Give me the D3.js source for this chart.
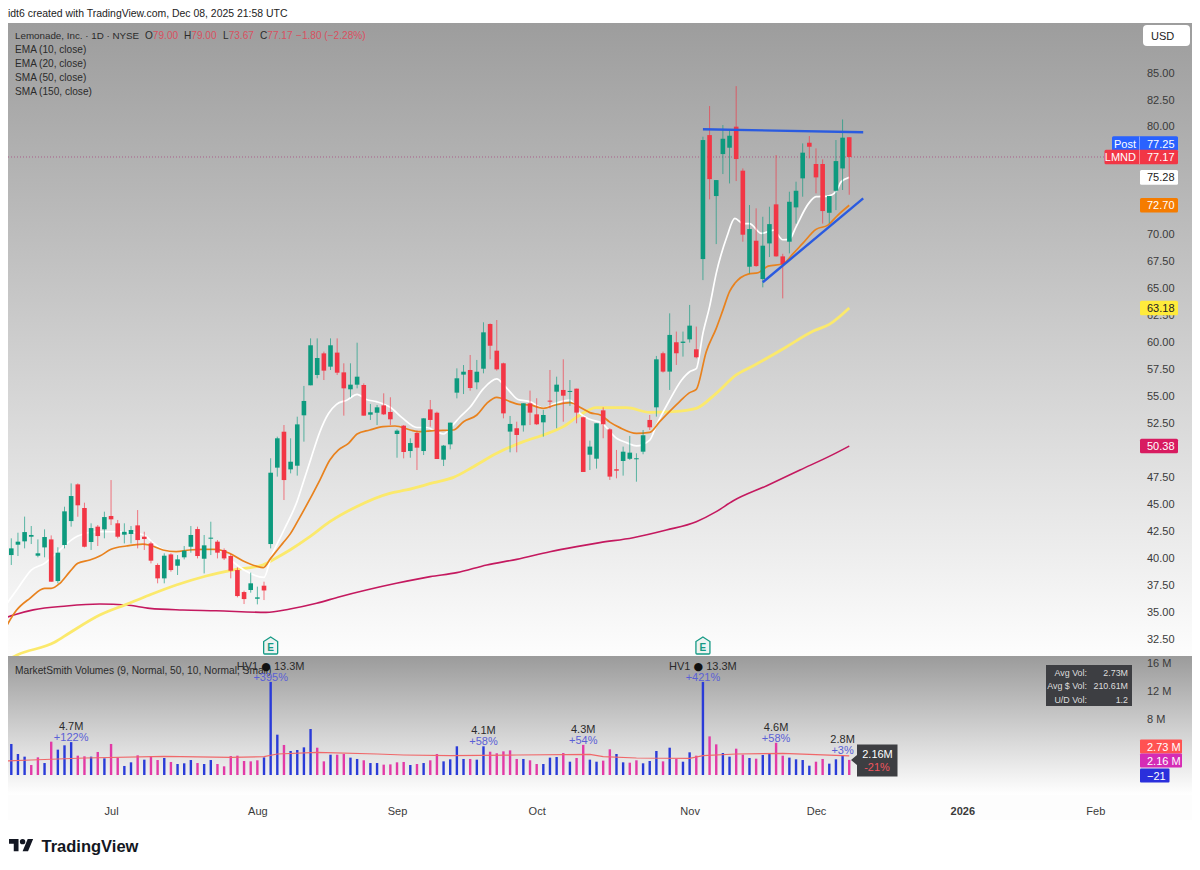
<!DOCTYPE html>
<html lang="en">
<head>
<meta charset="utf-8">
<title>LMND 1D</title>
<script src="https://d3js.org/d3.v7.min.js"></script>
<style>
  html, body { margin: 0; background: #fff; }
  svg { display: block; }
  text { font-family: "Liberation Sans", Arial, sans-serif; }
  .axis .domain, .axis line { display: none; }
  .axis text { font-family: "Liberation Sans", Arial, sans-serif; fill: #3a3a3a; font-size: 11px; }
</style>
</head>
<body>
<svg id="chart" width="1200" height="870"></svg>
<script>
// daily candles, index 0 = first bar on screen
const opens = [40.28,41.24,41.55,41.98,40.22,40.99,41.73,37.87,41.21,43.43,46.83,44.64,41.49,42.91,42.66,43.90,43.22,42.17,42.23,43.03,
  41.98,41.36,39.36,38.12,40.34,39.29,40.07,41.05,42.69,39.94,41.80,41.52,40.75,40.19,38.89,36.85,37.04,36.23,37.44,41.30,
  48.38,51.71,48.22,48.56,53.23,56.01,56.97,58.97,57.74,59.04,57.21,55.64,56.07,56.04,53.29,53.47,54.15,53.54,51.50,52.27,
  49.92,51.59,49.92,53.78,53.47,49.12,50.54,55.33,57.00,57.43,56.29,57.55,61.69,59.22,58.05,51.72,52.03,52.30,54.34,53.32,
  52.58,54.59,55.42,55.58,55.44,55.70,53.05,49.58,49.21,53.69,51.93,48.23,49.00,49.20,49.23,49.86,52.80,53.97,58.98,57.28,
  60.00,59.94,60.27,59.35,67.71,79.20,73.55,77.44,78.03,79.98,75.90,67.00,69.41,65.86,69.16,72.78,67.96,69.32,72.50,75.19,
  78.49,76.52,76.52,72.00,74.04,76.11,79.00];
const highs = [41.83,42.35,43.84,42.97,41.73,42.66,42.10,41.00,44.76,46.92,46.92,45.13,43.22,43.06,44.30,47.23,43.53,43.22,42.97,44.45,
  42.44,41.52,39.51,40.44,40.44,40.28,41.12,42.97,42.91,42.14,43.37,41.67,40.90,40.37,39.14,36.98,38.65,37.35,37.81,49.25,
  51.25,52.33,51.10,53.10,55.95,60.36,60.36,59.13,60.36,60.36,58.05,58.05,59.96,56.19,54.28,54.19,55.27,54.90,51.93,52.33,
  51.10,51.81,52.95,54.65,53.57,50.48,52.55,57.58,57.89,58.82,58.36,61.85,61.75,62.06,58.11,53.17,52.64,54.34,55.52,54.81,
  53.73,57.43,56.81,58.42,56.50,55.70,53.11,50.88,52.49,53.97,52.03,50.02,50.33,51.32,49.71,51.87,53.26,58.73,59.13,62.68,
  60.99,60.99,63.46,61.45,79.05,81.89,75.03,80.13,79.67,83.74,76.11,72.72,72.41,71.63,72.56,77.35,68.20,73.95,74.88,78.43,
  79.11,77.97,76.95,73.55,78.74,80.65,79.00];
const lows = [39.36,40.19,40.90,41.30,40.07,40.07,37.81,37.66,40.90,42.91,43.83,40.99,40.75,41.12,41.83,43.06,41.83,41.36,41.36,40.90,
  40.75,39.51,37.66,37.66,38.74,38.43,39.88,40.50,39.97,38.58,40.28,39.97,39.82,38.12,36.36,35.74,36.79,35.71,36.11,40.90,
  47.55,45.38,47.85,47.64,50.79,56.01,56.66,56.50,57.43,56.97,53.20,54.90,55.73,53.20,52.80,52.33,53.26,52.33,49.30,49.24,
  49.30,48.16,49.55,52.18,49.18,48.53,50.08,54.80,55.20,55.51,55.64,57.12,58.42,57.37,52.95,49.80,49.80,51.72,52.33,52.33,
  51.25,53.88,52.03,52.64,54.10,52.49,47.98,48.16,48.29,51.10,47.24,47.39,47.64,49.09,47.08,49.62,51.87,53.11,57.19,55.58,
  57.90,58.67,59.97,58.51,65.76,73.24,69.10,75.59,74.72,74.94,69.32,66.38,67.00,65.09,67.90,67.93,64.07,68.24,71.00,73.49,
  77.04,73.80,71.00,71.02,72.25,74.11,73.67];
const closes = [40.90,41.52,42.41,42.14,40.44,41.95,37.81,40.50,44.33,45.75,44.89,41.05,42.78,42.04,43.80,43.59,41.98,42.44,42.60,41.67,
  41.77,39.76,38.12,40.22,38.89,39.88,40.68,42.14,40.19,41.18,41.89,40.50,39.97,38.83,36.48,36.20,37.66,36.36,37.00,47.91,
  51.10,47.23,48.93,52.39,54.56,59.72,58.54,57.37,59.72,57.18,55.73,56.07,56.81,53.20,53.51,53.97,53.32,52.86,51.81,49.83,
  50.66,50.23,52.95,52.80,49.18,50.42,52.55,56.66,57.27,55.76,57.27,60.92,59.68,57.49,53.41,52.43,51.41,54.34,53.48,52.40,
  53.26,54.50,56.07,55.05,55.49,53.48,47.98,50.33,52.49,52.40,47.55,48.10,49.86,49.77,49.25,51.38,52.12,58.42,57.28,60.68,
  58.98,60.06,61.54,58.61,78.74,75.12,75.03,78.86,79.14,76.98,69.97,70.49,67.06,68.95,70.95,67.96,67.25,73.02,74.04,77.57,
  78.12,75.28,72.16,73.55,76.79,78.96,77.17];

// volume in millions, and whether the bar is drawn in the "up" colour
const volumes = [4.43,3.00,2.62,1.43,2.52,1.71,4.76,3.62,4.24,4.70,2.76,2.67,2.62,3.29,2.38,4.43,2.48,1.29,1.81,2.81,
  2.19,2.71,2.14,2.43,1.86,1.57,1.67,2.14,1.71,1.57,2.14,1.57,1.24,2.71,2.76,2.00,1.95,2.10,2.52,13.3,
  5.76,4.29,3.43,3.57,3.95,6.57,3.90,1.95,2.90,2.90,3.00,2.48,2.29,2.10,1.71,1.71,1.48,1.52,1.81,1.86,
  1.43,1.57,1.71,2.10,3.00,1.95,2.24,4.10,2.29,2.29,2.19,4.10,3.33,3.10,3.38,3.52,2.29,2.29,2.10,1.57,
  1.57,2.48,2.57,3.14,1.90,2.43,4.30,2.19,1.90,2.05,3.67,3.00,1.81,1.76,2.10,1.67,2.00,3.43,1.95,3.90,
  2.29,1.90,3.24,2.76,13.3,5.52,4.38,3.14,2.62,3.76,2.90,2.43,2.33,2.86,3.10,4.60,2.76,2.48,2.24,2.14,
  1.33,1.90,2.29,1.62,2.24,2.80,2.16];
const volumeUp = [1,1,1,0,0,1,0,1,1,1,0,0,1,0,1,0,0,1,1,0,
  1,0,0,1,0,1,1,1,0,1,1,0,0,0,0,0,0,0,1,1,
  1,0,1,1,1,1,0,0,1,0,0,1,1,0,1,1,0,0,0,0,
  1,0,1,0,0,1,1,1,1,0,1,1,0,0,0,0,0,1,0,0,
  1,1,1,0,1,0,0,1,1,0,0,1,1,0,0,1,1,1,0,1,
  0,1,1,0,1,0,0,1,1,0,0,1,0,1,1,0,0,1,1,1,
  1,0,0,1,1,1,0];

// moving averages as [bar index, price]
const ema10 = [[-1,35.5],[1,37.2],[3,38.89],[5,39.51],[7,40.6],[10,42.04],[13,42.44],[17,42.44],[20,42.14],[21,41.6],[23,40.75],[25,40.6],[27,40.75],[31,40.8],[33,39.82],[35,38.89],[38,38.21],[39,39.97],[41,42.6],[43,45.3],[44,47.2],[45,49.1],[46.4,51.7],[47.7,53.4],[48.9,54.25],[50.5,54.65],[52,55.17],[53.4,54.7],[54.9,54.5],[57,53.97],[58.7,53.04],[61,52.1],[62.5,52.1],[64,51.7],[65,51.5],[66.2,52.2],[67.5,53.1],[69,54],[71,55.7],[73,56.6],[74,56.1],[75,55.4],[76.2,54.7],[78,54.5],[80,53.88],[81.8,54.34],[84,54.65],[85.5,53.4],[87,52.86],[88.8,52.5],[91,51.1],[92.5,50.7],[94,50.4],[96,50.94],[97,52.3],[99,54.65],[100.8,56.5],[102,57.27],[103,57.55],[104,60.83],[105,63.3],[106,66.38],[107.6,69.78],[108.8,71.48],[110,71],[111,71],[112.8,70.09],[114.6,70.4],[116,69.5],[117,69.53],[118,70.7],[119.9,72.87],[121,73.49],[122.8,73.55],[124,73.95],[124.8,74.88],[126,75.28]];
const ema20 = [[-1,33.4],[0.8,35.18],[2.8,36.27],[5,37.19],[6,37.19],[7.3,37.66],[8.8,38.74],[10,39.51],[11.8,39.82],[13.3,40.19],[15,40.81],[17.3,41.12],[19.8,41.3],[20.8,41.2],[22.8,40.75],[24.8,40.6],[26.8,40.75],[29.3,40.8],[30.8,40.81],[32.8,40.44],[34.8,39.76],[36.8,39.26],[37.9,39.11],[39,39.97],[40.8,41.36],[42,42.29],[43.3,43.68],[46.4,47.23],[47.9,49.09],[49.2,50.02],[50.7,50.63],[52,51.5],[53.9,51.87],[55.9,52.18],[57.7,52.24],[60,51.87],[61.2,51.71],[63.5,51.81],[66.5,51.87],[68,52.64],[70,53.26],[71.5,54.34],[73,54.9],[75,54.5],[76.3,54.25],[78,54.19],[80,53.88],[81.8,54.19],[84,54.4],[85.8,53.88],[87,53.48],[88.6,53.26],[90,52.6],[91.5,52.09],[94,51.56],[96,51.65],[97.5,52.64],[100.5,54.5],[102,55.33],[103,55.64],[104.5,59.13],[106,61.29],[107,62.98],[108,64.7],[108.8,65.46],[110.8,66.32],[112.3,66.44],[113.8,67.06],[116,67.25],[117.6,68.24],[119,69.16],[121,70.46],[122.8,70.86],[124.3,71.79],[126,72.7]];
const sma50 = [[-1,30.4],[0.8,31],[6.5,32.19],[8.8,33.08],[13.3,34.72],[17.3,35.71],[20.8,36.58],[24.8,37.5],[29.3,38.34],[33.3,38.89],[37.8,39.36],[39.5,39.9],[41.9,40.75],[44.9,41.98],[47.9,43.37],[51.9,44.76],[56.9,46],[59.4,46.31],[63.5,46.99],[66.5,47.48],[69.5,48.47],[73,49.71],[77,50.79],[80,51.41],[83,52.18],[85.5,53.26],[88,53.94],[92.5,53.94],[96,53.5],[99.5,53.57],[103,53.88],[106,55.27],[109,56.97],[111.6,57.83],[113.6,58.51],[116.6,59.59],[120.6,61.04],[123,61.66],[126,63.18]];
const sma150 = [[-1,34.45],[0.5,34.75],[3.3,35.2],[8.3,35.56],[13.3,35.74],[17.3,35.65],[20.8,35.34],[25.8,35.19],[30.8,35.12],[38.3,34.97],[41.9,35.28],[45.9,35.81],[49.4,36.42],[53.4,37.04],[57.9,37.66],[63,38.28],[67,38.65],[71.5,39.36],[76,39.88],[81,40.59],[85,41.06],[88.5,41.43],[93.5,41.89],[98.5,42.6],[103,43.37],[106,44.3],[108.5,45.29],[113.6,46.71],[118.6,48.16],[123.6,49.61],[126,50.38]];
const volumeAvg = [[-1,2],[3,2.14],[11,2.43],[23,2.67],[33,2.52],[38,2.62],[40,3],[46,3.24],[55,3],[59,2.86],[66,2.76],[76,2.86],[87,2.95],[89,2.62],[94,2.43],[102,2.38],[104,2.76],[109,3],[116,3.1],[126,2.73]];

// hand drawn trend lines
const resistanceLine = [[104,79.74],[128.1,79.46]];
const supportLine = [[113,65.56],[128.1,73.34]];

// 50, 72.5, 75 and 77.5 sit behind the price tags in the original
const priceTicks = [32.5,35,37.5,40,42.5,45,47.5,52.5,55,57.5,60,62.5,65,67.5,70,80,82.5,85];
const timeTickBars = [15,37,58,79,102,121,143,163];
const timeTickLabels = ['Jul','Aug','Sep','Oct','Nov','Dec','2026','Feb'];
const volumeTicks = [8,12,16];
const earningsBars = [39,104];

// [bar, volume, top line, pct]
const volumeNotes = [
  [9,4.7,'4.7M','+122%'],[39,13.3,'HV1 ● 13.3M','+395%'],[71,4.1,'4.1M','+58%'],
  [86,4.3,'4.3M','+54%'],[104,13.3,'HV1 ● 13.3M','+421%'],[115,4.6,'4.6M','+58%'],[125,2.8,'2.8M','+3%']
];
const legendLines = ['EMA (10, close)','EMA (20, close)','SMA (50, close)','SMA (150, close)'];
const statRows = [['Avg Vol:','2.73M'],['Avg $ Vol:','210.61M'],['U/D Vol:','1.2']];

const UP = '#0d9a7e', DOWN = '#f23645', VOL_UP = '#2a3bd8', VOL_DOWN = '#e23aa6';

const svg = d3.select('#chart');
const W = 1192, L = 8, T = 23, MID = 656, VB = 795, B = 820;

const x = d3.scaleLinear().domain([0, 163]).range([11.3, 1095.3]);
const y = d3.scaleLinear().domain([32.5, 85]).range([639, 72.5]);
const yv = d3.scaleLinear().domain([0, 16]).range([775, 663]);

const defs = svg.append('defs');
function grad(id, stops) {
  const g = defs.append('linearGradient').attr('id', id).attr('x1', 0).attr('x2', 0).attr('y1', 0).attr('y2', 1);
  stops.forEach(s => g.append('stop').attr('offset', s[0]).attr('stop-color', s[1]));
}
grad('mainBg', [[0, '#9d9d9d'], [1, '#fdfdfd']]);
grad('volBg', [[0, '#9b9b9b'], [1, '#ffffff']]);
defs.append('clipPath').attr('id', 'mainClip').append('rect').attr('x', L).attr('y', T).attr('width', W - L).attr('height', MID - T);
defs.append('clipPath').attr('id', 'volClip').append('rect').attr('x', L).attr('y', MID).attr('width', W - L).attr('height', VB - MID);

svg.append('rect').attr('x', L).attr('y', T).attr('width', W - L).attr('height', MID - T).attr('fill', 'url(#mainBg)');
svg.append('rect').attr('x', L).attr('y', MID).attr('width', W - L).attr('height', VB - MID).attr('fill', 'url(#volBg)');
svg.append('rect').attr('x', L).attr('y', VB).attr('width', W - L).attr('height', B - VB).attr('fill', '#fdfdfd');

svg.append('text').attr('x', 8).attr('y', 17).attr('font-size', 10.45).attr('fill', '#222')
  .text('idt6 created with TradingView.com, Dec 08, 2025 21:58 UTC');

// last price dotted line
svg.append('line').attr('x1', L).attr('x2', 1105).attr('y1', y(77.17)).attr('y2', y(77.17))
  .attr('stroke', '#a8608a').attr('stroke-width', 1).attr('stroke-dasharray', '1 2');

// moving averages sit under the candles
const main = svg.append('g').attr('clip-path', 'url(#mainClip)');
const line = d3.line().x(d => x(d[0])).y(d => y(d[1])).curve(d3.curveMonotoneX);
[[sma150, '#c4195f', 1.6], [sma50, '#fbe96c', 2.8], [ema10, '#ffffff', 1.7], [ema20, '#e8821e', 1.7]].forEach(s => {
  main.append('path').attr('d', line(s[0])).attr('fill', 'none').attr('stroke', s[1]).attr('stroke-width', s[2]);
});

const bars = d3.range(closes.length);
const isUp = i => closes[i] >= opens[i];
main.selectAll('.wick').data(bars).join('line').attr('class', 'wick')
  .attr('x1', i => x(i)).attr('x2', i => x(i))
  .attr('y1', i => y(highs[i])).attr('y2', i => y(lows[i]))
  .attr('stroke', i => isUp(i) ? UP : DOWN).attr('stroke-opacity', 0.65).attr('stroke-width', 1);
main.selectAll('.body').data(bars).join('rect').attr('class', 'body')
  .attr('x', i => x(i) - 2.3).attr('width', 4.6)
  .attr('y', i => y(Math.max(opens[i], closes[i])))
  .attr('height', i => Math.max(1, Math.abs(y(opens[i]) - y(closes[i]))))
  .attr('fill', i => isUp(i) ? UP : DOWN);

// trend lines
[resistanceLine, supportLine].forEach(l => {
  svg.append('path').attr('d', d3.line().x(d => x(d[0])).y(d => y(d[1]))(l))
    .attr('fill', 'none').attr('stroke', '#2a5be0').attr('stroke-width', 2.4);
});

// earnings badges
const badge = svg.selectAll('.badge').data(earningsBars).join('g').attr('class', 'badge')
  .attr('transform', d => `translate(${x(d)},${646})`);
badge.append('path').attr('d', 'M0 -9 L7 -4.5 V7 Q7 8 6 8 H-6 Q-7 8 -7 7 V-4.5 Z')
  .attr('fill', '#eef3f1').attr('stroke', '#159a85').attr('stroke-width', 1.3);
badge.append('text').attr('text-anchor', 'middle').attr('y', 4.5).attr('font-size', 10).attr('font-weight', 700)
  .attr('fill', '#159a85').text('E');

// price legend
const head = svg.append('g').attr('font-size', 10.1);
head.append('text').attr('x', 15).attr('y', 38.5).attr('font-size', 9.8).attr('fill', '#2b2b2b').text('Lemonade, Inc. · 1D · NYSE');
[[145, 'O', '79.00'], [184, 'H', '79.00'], [223, 'L', '73.67'], [260, 'C', '77.17']].forEach(d => {
  const t = head.append('text').attr('x', d[0]).attr('y', 38.5).attr('fill', '#2b2b2b').text(d[1]);
  t.append('tspan').attr('fill', '#d9505f').text(d[2]);
});
head.append('text').attr('x', 296).attr('y', 38.5).attr('fill', '#d9505f').text('−1.80 (−2.28%)');
legendLines.forEach((s, i) => {
  head.append('text').attr('x', 15).attr('y', 52.5 + i * 14).attr('fill', '#2b2b2b').text(s);
});

// price axis
svg.append('g').attr('class', 'axis').attr('transform', 'translate(1136,0)')
  .call(d3.axisRight(y).tickValues(priceTicks).tickFormat(d3.format('.2f')).tickSize(0).tickPadding(11));

function tag(yPos, left, right, txt, fill, color, name) {
  svg.append('rect').attr('x', left).attr('y', yPos - 7.3).attr('width', right - left).attr('height', 14.6).attr('rx', 1.5).attr('fill', fill);
  svg.append('text').attr('x', 1147).attr('y', yPos + 4).attr('font-size', 11).attr('fill', color).text(txt);
  if (name) {
    svg.append('line').attr('x1', 1139.5).attr('x2', 1139.5).attr('y1', yPos - 7).attr('y2', yPos + 7).attr('stroke', '#fff').attr('stroke-opacity', 0.4);
    svg.append('text').attr('x', 1136).attr('y', yPos + 4).attr('text-anchor', 'end').attr('font-size', 11).attr('fill', '#fff').text(name);
  }
}
tag(143.5, 1112, 1178, '77.25', '#2962ff', '#fff', 'Post');
tag(y(77.17), 1104.5, 1178, '77.17', '#f23645', '#fff', 'LMND');
tag(y(75.28), 1140, 1178, '75.28', '#ffffff', '#222');
tag(y(72.70), 1140, 1178, '72.70', '#f57c00', '#fff');
tag(y(63.18), 1140, 1178, '63.18', '#ffeb3b', '#222');
tag(y(50.38), 1140, 1178, '50.38', '#d81b60', '#fff');

// USD button
svg.append('rect').attr('x', 1143).attr('y', 25).attr('width', 47).attr('height', 21).attr('rx', 4).attr('fill', '#fff');
svg.append('text').attr('x', 1151).attr('y', 40).attr('font-size', 11).attr('fill', '#222').text('USD');

// volume pane
svg.append('text').attr('x', 15).attr('y', 673.5).attr('font-size', 10.2).attr('fill', '#2b2b2b')
  .text('MarketSmith Volumes (9, Normal, 50, 10, Normal, Small)');
svg.selectAll('.vol').data(bars).join('rect').attr('class', 'vol')
  .attr('x', i => x(i) - 1.2).attr('width', 2.4)
  .attr('y', i => yv(volumes[i])).attr('height', i => yv(0) - yv(volumes[i]))
  .attr('fill', i => volumeUp[i] ? VOL_UP : VOL_DOWN);
svg.append('path').attr('d', d3.line().x(d => x(d[0])).y(d => yv(d[1]))(volumeAvg))
  .attr('fill', 'none').attr('stroke', '#f0686a').attr('stroke-width', 1.2).attr('clip-path', 'url(#volClip)');

volumeNotes.forEach(n => {
  const top = yv(n[1]);
  const t = svg.append('text').attr('x', x(n[0])).attr('y', top - 12).attr('text-anchor', 'middle')
    .attr('font-size', 11).attr('fill', '#2b2b2b');
  const parts = n[2].split('●');
  t.append('tspan').text(parts[0]);
  if (parts.length > 1) {
    t.append('tspan').attr('style', 'font-family:"DejaVu Sans"').attr('font-size', 11).attr('fill', '#111').text('●');
    t.append('tspan').text(parts[1]);
  }
  svg.append('text').attr('x', x(n[0])).attr('y', top - 1).attr('text-anchor', 'middle')
    .attr('font-size', 11).attr('fill', '#5a60d6').text(n[3]);
});

// current volume callout
svg.append('path').attr('d', 'M857 744.5 H897.5 V776.5 H857 V765 L851 760 L857 755 Z').attr('fill', '#3d3e42');
svg.append('text').attr('x', 877.5).attr('y', 758).attr('text-anchor', 'middle').attr('font-size', 11).attr('fill', '#fff').text('2.16M');
svg.append('text').attr('x', 877).attr('y', 770.5).attr('text-anchor', 'middle').attr('font-size', 11).attr('fill', '#f0555f').text('-21%');

// stats box
svg.append('rect').attr('x', 1046).attr('y', 665).attr('width', 86).attr('height', 41).attr('fill', '#3d3e42');
statRows.forEach((r, i) => {
  const ry = 675.5 + i * 13.6;
  svg.append('text').attr('x', 1087).attr('y', ry).attr('text-anchor', 'end').attr('font-size', 8.9).attr('fill', '#ddd').text(r[0]);
  svg.append('text').attr('x', 1128).attr('y', ry).attr('text-anchor', 'end').attr('font-size', 8.9).attr('fill', '#ddd').text(r[1]);
});

// volume axis and tags
svg.append('g').attr('class', 'axis').attr('transform', 'translate(1136,0)')
  .call(d3.axisRight(yv).tickValues(volumeTicks).tickFormat(d => d + ' M').tickSize(0).tickPadding(11));
[[746.5, 1182, '2.73 M', '#ff5252'], [760.5, 1182, '2.16 M', '#d52bb5'], [775.5, 1169.5, '−21', '#2a2fdc']].forEach(d => {
  svg.append('rect').attr('x', 1140).attr('y', d[0] - 7).attr('width', d[1] - 1140).attr('height', 14).attr('rx', 1).attr('fill', d[3]);
  svg.append('text').attr('x', 1147).attr('y', d[0] + 4).attr('font-size', 11).attr('fill', '#fff').text(d[2]);
});

// time axis
const timeAxis = svg.append('g').attr('class', 'axis').attr('transform', 'translate(0,799)')
  .call(d3.axisBottom(x).tickValues(timeTickBars).tickFormat((d, i) => timeTickLabels[i]).tickSize(0).tickPadding(8));
timeAxis.selectAll('text').attr('font-weight', d => d === 143 ? 700 : 400);

// logo
const logo = svg.append('g').attr('transform', 'translate(9,836.2) scale(0.68)').attr('fill', '#131722');
logo.append('path').attr('d', 'M14 22H7V11H0V4h14v18zM28 22h-8l7.5-18h8L28 22z');
logo.append('circle').attr('cx', 20).attr('cy', 8).attr('r', 4);
svg.append('text').attr('x', 41.5).attr('y', 851.5).attr('font-size', 16.5).attr('font-weight', 700).attr('fill', '#131722').text('TradingView');
</script>
</body>
</html>
